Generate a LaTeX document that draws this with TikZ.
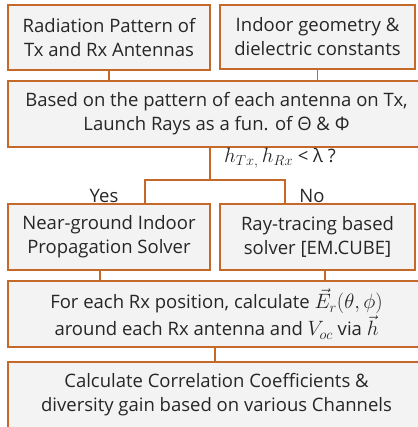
\documentclass[tikz,border=0pt]{standalone}
\usepackage{fontspec}
\setmainfont{Open Sans}
\definecolor{boxline}{HTML}{C5692B}
\definecolor{boxfill}{HTML}{F3F3F3}
\newcommand\bigmath[1]{{\fontsize{20}{24}\selectfont$#1$}}
\begin{document}
\begin{tikzpicture}[x=1pt,y=-1pt,
  blk/.style={draw=boxline,fill=boxfill,line width=1.8pt,inner sep=0pt,align=center,
    font=\fontsize{18.5}{24}\selectfont,text=black!85},
  wire/.style={draw=boxline,line width=1.8pt},
  lbl/.style={font=\fontsize{18.5}{22}\selectfont,text=black!85}]
\useasboundingbox (0,0) rectangle (417,427);
\node[blk,minimum width=202pt,minimum height=65pt] (rad) at (109,37.5) {Radiation Pattern of\\Tx and Rx Antennas};
\node[blk,minimum width=195pt,minimum height=64pt] (geom) at (317.5,37) {Indoor geometry \&\\dielectric constants};
\node[blk,minimum width=417pt,minimum height=66pt] (launch) at (216.5,114) {Based on the pattern of each antenna on Tx,\\Launch Rays as a fun. of Θ \& Φ};
\node[blk,minimum width=202pt,minimum height=66pt] (near) at (109,237) {Near-ground Indoor\\Propagation Solver};
\node[blk,minimum width=195pt,minimum height=66pt] (ray) at (317.5,237) {Ray-tracing based\\solver [EM.CUBE]};
\node[blk,minimum width=417pt,minimum height=66pt,font=\fontsize{18.5}{27}\selectfont] (field) at (216.5,314) {For each Rx position, calculate \bigmath{\vec{E}_r(\theta,\phi)}\\around each Rx antenna and \bigmath{V_{oc}} via \bigmath{\vec{h}}};
\node[blk,minimum width=417pt,minimum height=66pt] (corr) at (216.5,395) {Calculate Correlation Coefficients \&\\diversity gain based on various Channels};
\coordinate (split) at (210,180);\coordinate (yes) at (145,0);\coordinate (no) at (285,0);
\coordinate (nearout) at (100,0);\coordinate (rayout) at (325,0);\coordinate (mid) at (215,0);
\draw[wire] (rad.south)--(rad.south |- launch.north);\draw[wire] (geom.south)--(geom.south |- launch.north);
\draw[wire] (launch.south -| split)--(split);
\draw[wire] (near.north -| yes) |- (split) -| (ray.north -| no);
\draw[wire] (near.south -| nearout)--(field.north -| nearout);\draw[wire] (ray.south -| rayout)--(field.north -| rayout);
\draw[wire] (field.south -| mid)--(corr.north -| mid);
\node[lbl] (cond) at (280,158) {\bigmath{h_{Tx,}\,h_{Rx}} < λ ?};
\node[lbl] (yeslbl) at (104,196) {Yes};\node[lbl] (nolbl) at (312,196) {No};
\end{tikzpicture}
\end{document}
